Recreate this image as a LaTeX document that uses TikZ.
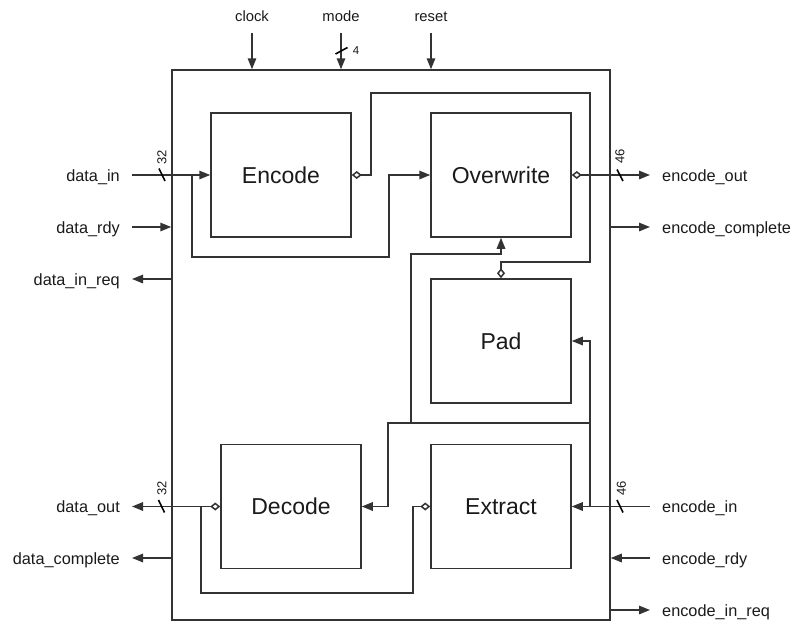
\documentclass[tikz,border=0pt]{standalone}
\usepackage{fontspec}
\setmainfont{Liberation Sans}
\usetikzlibrary{arrows.meta}
\definecolor{wirecol}{HTML}{333333}
\definecolor{txt}{HTML}{1a1a1a}
\tikzset{
  wtri/.tip={Triangle[length=11pt,width=8.5pt]},
  wdia/.tip={Diamond[open,length=10pt,width=8pt]},
  wire/.style={draw=wirecol,line width=1.5pt},
  arr/.style={wire,-wtri},
  blk/.style={draw=wirecol,line width=1.5pt,minimum width=140pt,minimum height=124pt,inner sep=0pt,
    font=\fontsize{23}{27}\selectfont,text=txt},
  sig/.style={font=\fontsize{16.3}{19}\selectfont,text=txt,inner sep=0pt},
  sigtop/.style={font=\fontsize{14.8}{18}\selectfont,text=txt,inner sep=0pt,anchor=base},
  busl/.style={font=\fontsize{13}{15}\selectfont,text=txt,inner sep=0pt,rotate=90},
  slash/.style={draw=black,line width=1.6pt}
}
\begin{document}
\begin{tikzpicture}[x=1pt,y=-1pt]
\useasboundingbox (0,0) rectangle (796,621);
% outer box
\node[draw=wirecol,line width=1.5pt,minimum width=438pt,minimum height=550pt,inner sep=0pt] (top) at (391,345) {};
% blocks
\node[blk] (enc) at (281,175) {Encode};
\node[blk] (ow) at (501,175) {Overwrite};
\node[blk] (pad) at (501,341) {Pad};
\node[blk] (dec) at (291,506.5) {Decode};
\node[blk] (ext) at (501,506.5) {Extract};

% top signals
\node[sigtop] (lclk) at (252,21) {clock};
\node[sigtop] (lmode) at (341,21) {mode};
\node[sigtop] (lrst) at (431,21) {reset};
\coordinate (clkS) at (252,33);
\coordinate (modeS) at (341,33);
\coordinate (rstS) at (431,33);
\draw[arr] (clkS) -- (clkS |- top.north);
\draw[arr] (modeS) -- (modeS |- top.north);
\draw[arr] (rstS) -- (rstS |- top.north);
\draw[slash] (335.5,54) -- (347.5,47.5);
\node[font=\fontsize{11.5}{13}\selectfont,text=txt,inner sep=0pt] (lfour) at (356,51) {4};

% left signals
\node[sig,anchor=base east] (ldin) at (120,181) {data\_in};
\node[sig,anchor=base east] (ldrdy) at (120,233) {data\_rdy};
\node[sig,anchor=base east] (ldreq) at (120,285) {data\_in\_req};
\node[sig,anchor=base east] (ldout) at (120,512.5) {data\_out};
\node[sig,anchor=base east] (ldcmp) at (120,564) {data\_complete};
\coordinate (dinS) at (132,175);
\coordinate (drdyS) at (132,227);
\coordinate (dreqS) at (132,279);
\coordinate (doutS) at (132,506.5);
\coordinate (dcmpS) at (132,558);
\draw[arr] (dinS) -- (enc.west);
\draw[arr] (drdyS) -- (drdyS -| top.west);
\draw[arr] (dreqS -| top.west) -- (dreqS);
\draw[wire,wdia-wtri] (dec.west) -- (doutS);
\draw[arr] (dcmpS -| top.west) -- (dcmpS);
\draw[slash] (159,168.5) -- (165,181);
\draw[slash] (158.5,500) -- (164.5,512.5);
\node[busl] (b1) at (162,157) {32};
\node[busl] (b2) at (162,488) {32};

% right signals
\node[sig,anchor=base west] (leout) at (662,181) {encode\_out};
\node[sig,anchor=base west] (lecmp) at (662,233) {encode\_complete};
\node[sig,anchor=base west] (lein) at (662,512.5) {encode\_in};
\node[sig,anchor=base west] (lerdy) at (662,564) {encode\_rdy};
\node[sig,anchor=base west] (lereq) at (662,616) {encode\_in\_req};
\coordinate (eoutS) at (650,175);
\coordinate (ecmpS) at (650,227);
\coordinate (einS) at (650,506.5);
\coordinate (erdyS) at (650,558);
\coordinate (ereqS) at (650,610);
\draw[wire,wdia-wtri] (ow.east) -- (eoutS);
\draw[arr] (ecmpS -| top.east) -- (ecmpS);
\draw[arr] (einS) -- (ext.east);
\draw[arr] (erdyS) -- (erdyS -| top.east);
\draw[arr] (ereqS -| top.east) -- (ereqS);
\draw[slash] (617,169.5) -- (623,181);
\draw[slash] (617,500) -- (623,512.5);
\node[busl] (b3) at (620,156) {46};
\node[busl] (b4) at (621.5,488) {46};

% internal wiring
\draw[wire,wdia-wdia] (enc.east) -- (371,175) -- (371,93) -- (590,93) -- (590,262) -- (501,262) -- (pad.north);
\draw[arr] (192,175) -- (192,257) -- (389,257) -- (389,175) -- (ow.west);
\draw[arr] (590,506.5) -- (590,341) -- (pad.east);
\draw[arr] (590,423) -- (388,423) -- (388,506.5) -- (dec.east);
\draw[arr] (411,423) -- (411,254) -- (501,254) -- (ow.south);
\draw[wire,wdia-] (ext.west) -- (413,506.5) -- (413,593) -- (201,593) -- (201,506.5);
\end{tikzpicture}
\end{document}
